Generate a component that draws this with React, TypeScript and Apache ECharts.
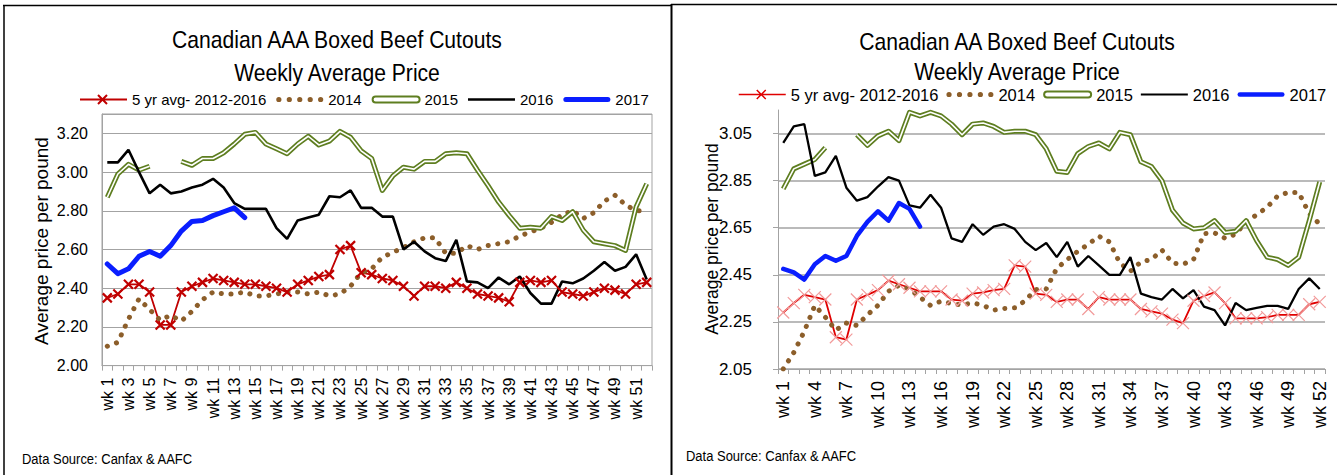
import React, { useEffect, useRef } from 'react';
import * as echarts from 'echarts';

const weeks = ['wk 1','wk 2','wk 3','wk 4','wk 5','wk 6','wk 7','wk 8','wk 9','wk 10','wk 11','wk 12','wk 13','wk 14','wk 15','wk 16','wk 17','wk 18','wk 19','wk 20','wk 21','wk 22','wk 23','wk 24','wk 25','wk 26','wk 27','wk 28','wk 29','wk 30','wk 31','wk 32','wk 33','wk 34','wk 35','wk 36','wk 37','wk 38','wk 39','wk 40','wk 41','wk 42','wk 43','wk 44','wk 45','wk 46','wk 47','wk 48','wk 49','wk 50','wk 51','wk 52'];

const seriesNames = ['5 yr avg- 2012-2016', '2014', '2015', '2016', '2017'];

// ---- Canadian AAA ----
const avgAAA = [2.35,2.37,2.42,2.42,2.38,2.21,2.21,2.38,2.41,2.43,2.45,2.44,2.43,2.42,2.42,2.41,2.40,2.38,2.42,2.44,2.46,2.47,2.60,2.62,2.48,2.47,2.45,2.44,2.41,2.36,2.41,2.41,2.40,2.43,2.40,2.37,2.36,2.35,2.33,2.43,2.44,2.43,2.44,2.38,2.37,2.36,2.38,2.40,2.39,2.37,2.42,2.43];
const y2014AAA = [2.10,2.12,2.24,2.345,2.29,2.235,2.26,2.23,2.28,2.34,2.38,2.37,2.37,2.38,2.36,2.36,2.37,2.38,2.38,2.37,2.38,2.36,2.37,2.41,2.48,2.50,2.56,2.585,2.61,2.64,2.66,2.66,2.58,2.58,2.62,2.60,2.62,2.63,2.64,2.67,2.69,2.71,2.74,2.78,2.80,2.76,2.79,2.85,2.88,2.83,2.80,2.80];
const y2015AAA = [2.87,2.99,3.04,3.01,3.03,null,null,3.055,3.035,3.07,3.07,3.10,3.145,3.195,3.205,3.145,3.12,3.095,3.145,3.185,3.14,3.16,3.21,3.18,3.11,3.07,2.905,2.98,3.025,3.015,3.055,3.055,3.095,3.10,3.095,3.01,2.93,2.845,2.775,2.71,2.715,2.71,2.77,2.75,2.795,2.70,2.64,2.63,2.62,2.595,2.82,2.94];
const y2016AAA = [3.05,3.05,3.115,3.00,2.89,2.935,2.89,2.90,2.92,2.935,2.965,2.92,2.84,2.81,2.81,2.81,2.71,2.655,2.75,2.765,2.78,2.875,2.87,2.905,2.815,2.815,2.77,2.77,2.60,2.64,2.59,2.555,2.54,2.65,2.435,2.43,2.40,2.455,2.42,2.46,2.375,2.32,2.32,2.435,2.425,2.45,2.49,2.535,2.49,2.51,2.575,2.445];
const y2017AAA = [2.525,2.475,2.50,2.565,2.59,2.565,2.62,2.695,2.745,2.75,2.775,2.795,2.815,2.765];

// ---- Canadian AA ----
const avgAA = [2.29,2.33,2.365,2.355,2.345,2.185,2.175,2.345,2.365,2.385,2.425,2.41,2.395,2.38,2.38,2.38,2.345,2.34,2.37,2.375,2.385,2.39,2.49,2.485,2.37,2.365,2.335,2.345,2.345,2.305,2.355,2.345,2.345,2.345,2.305,2.295,2.285,2.26,2.245,2.34,2.36,2.375,2.33,2.265,2.265,2.265,2.27,2.28,2.28,2.28,2.325,2.335];
const y2014AA = [2.05,2.12,2.21,2.32,2.27,2.215,2.245,2.235,2.28,2.32,2.38,2.405,2.39,2.355,2.32,2.338,2.328,2.322,2.331,2.32,2.30,2.307,2.31,2.34,2.388,2.39,2.477,2.515,2.55,2.58,2.614,2.59,2.50,2.465,2.505,2.515,2.555,2.50,2.495,2.515,2.625,2.628,2.605,2.623,2.675,2.705,2.737,2.785,2.80,2.80,2.71,2.665];
const y2015AA = [2.815,2.90,2.92,2.94,2.99,null,null,3.045,3.00,3.04,3.06,3.02,3.14,3.125,3.14,3.125,3.09,3.045,3.09,3.095,3.08,3.055,3.06,3.06,3.045,2.985,2.89,2.885,2.965,2.995,3.01,2.985,3.055,3.045,2.93,2.91,2.85,2.725,2.67,2.645,2.65,2.68,2.63,2.635,2.68,2.595,2.525,2.515,2.49,2.525,2.68,2.845];
const y2016AA = [3.01,3.08,3.09,2.87,2.885,2.955,2.82,2.765,2.78,2.825,2.865,2.85,2.745,2.735,2.79,2.735,2.605,2.59,2.665,2.62,2.655,2.665,2.645,2.59,2.555,2.585,2.525,2.59,2.485,2.53,2.49,2.45,2.45,2.525,2.37,2.355,2.345,2.39,2.35,2.385,2.315,2.30,2.235,2.33,2.30,2.31,2.318,2.318,2.305,2.39,2.435,2.39];
const y2017AA = [2.475,2.46,2.43,2.495,2.53,2.51,2.53,2.615,2.675,2.72,2.68,2.755,2.73,2.655];

const SANS = "'Liberation Sans', Arial, sans-serif";
const GRID = '#a3a3a3';
const BROWN = '#8c5e2a';
const GREEN = '#5e7e20';
const BLUE = '#0a1eff';
const XSYM = 'path://M0,0L10,10M10,0L0,10';

function dotsPath(n: number, r: number, gap: number) {
  let d = 'path://';
  for (let i = 0; i < n; i++) {
    const cx = r + i * gap;
    d += `M${cx - r},${r}a${r},${r} 0 1,0 ${2 * r},0a${r},${r} 0 1,0 ${-2 * r},0Z`;
  }
  return d;
}

function legendData(red: string, markW: number, blueW: number, blackW: number) {
  return [
    { name: seriesNames[0], icon: 'path://M0,6H47M18,1.5L27,10.5M27,1.5L18,10.5', itemStyle: { color: 'rgba(0,0,0,0)', borderColor: red, borderWidth: markW } },
    { name: seriesNames[1], icon: dotsPath(5, 2.5, 10), itemStyle: { color: BROWN, borderWidth: 0 } },
    { name: seriesNames[2], icon: 'path://M3,0H44A3,3 0 0 1 44,6H3A3,3 0 0 1 3,0Z', itemStyle: { color: '#fff', borderColor: GREEN, borderWidth: 2 } },
    { name: seriesNames[3], icon: `path://M0,0H47V${blackW}H0Z`, itemStyle: { color: '#000', borderWidth: 0 } },
    { name: seriesNames[4], icon: `path://M${blueW / 2},0H${47 - blueW / 2}A${blueW / 2},${blueW / 2} 0 0 1 ${47 - blueW / 2},${blueW}H${blueW / 2}A${blueW / 2},${blueW / 2} 0 0 1 ${blueW / 2},0Z`, itemStyle: { color: BLUE, borderWidth: 0 } },
  ];
}

function makeSeries(idx: number, avg: number[], s14: number[], s15: (number | null)[], s16: number[], s17: number[], cfg: any) {
  const base = { type: 'line', xAxisIndex: idx, yAxisIndex: idx, animation: false, silent: true, showSymbol: false, symbol: 'none' };
  return [
    {
      ...base, name: seriesNames[0], data: avg, symbol: XSYM, showSymbol: true, showAllSymbol: true, symbolSize: cfg.markSize,
      itemStyle: { color: 'rgba(0,0,0,0)', borderColor: cfg.markColor, borderWidth: cfg.markW },
      lineStyle: { color: cfg.red, width: cfg.redW },
    },
    { ...base, name: seriesNames[1], data: s14, lineStyle: { color: BROWN, width: 5, type: [0.1, 9.6], cap: 'round' }, itemStyle: { color: BROWN } },
    { ...base, name: seriesNames[2], data: s15, lineStyle: { color: GREEN, width: 5, join: 'round' }, itemStyle: { color: GREEN } },
    { ...base, name: '2015 inner', data: s15, lineStyle: { color: '#fff', width: 1.6, join: 'round' }, itemStyle: { color: '#fff' } },
    { ...base, name: seriesNames[3], data: s16, lineStyle: { color: '#000', width: cfg.blackW }, itemStyle: { color: '#000' } },
    { ...base, name: seriesNames[4], data: s17, lineStyle: { color: BLUE, width: cfg.blueW, cap: 'round', join: 'round' }, itemStyle: { color: BLUE } },
  ];
}

function txt(text: string, x: number, y: number, fontSize: number, scaleX: number, align: string) {
  return { type: 'text', x, y, scaleX, style: { text, fontSize, fontFamily: SANS, fill: '#000', align, verticalAlign: 'middle' } };
}

export default function App() {
  const ref = useRef<HTMLDivElement>(null);
  useEffect(() => {
    const chart = echarts.init(ref.current!, null, { renderer: 'svg' });
    const xAxis = (gridIndex: number, labelInterval: number, fontSize: number) => ({
      type: 'category', gridIndex, data: weeks, boundaryGap: true,
      axisLine: { show: true, lineStyle: { color: GRID, width: 1 } },
      axisTick: { show: true, interval: 0, length: 5, lineStyle: { color: GRID } },
      axisLabel: { interval: labelInterval, rotate: 90, margin: 12, fontSize, fontFamily: SANS, color: '#000' },
      splitLine: { show: false },
    });
    chart.setOption({
      animation: false,
      backgroundColor: '#fff',
      grid: [
        { left: 102, top: 114, width: 550, height: 251.6, show: true, borderColor: GRID, borderWidth: 1, backgroundColor: 'transparent' },
        { left: 778, top: 110, width: 547, height: 259, show: false },
      ],
      xAxis: [xAxis(0, 1, 16), xAxis(1, 2, 18)],
      yAxis: [
        {
          type: 'value', gridIndex: 0, min: 2.0, max: 3.3, interval: 0.2,
          axisLine: { show: true, lineStyle: { color: GRID } }, axisTick: { show: false },
          axisLabel: { margin: 14, fontSize: 16, fontFamily: SANS, color: '#000', showMaxLabel: false, formatter: (v: number) => v.toFixed(2) },
          splitLine: { show: true, lineStyle: { color: GRID, width: 1 } },
        },
        {
          type: 'value', gridIndex: 1, min: 2.05, max: 3.15, interval: 0.2,
          axisLine: { show: true, lineStyle: { color: GRID } },
          axisTick: { show: true, length: 5, lineStyle: { color: GRID } },
          axisLabel: { margin: 26, fontSize: 17, fontFamily: SANS, color: '#000', showMaxLabel: false, formatter: (v: number) => v.toFixed(2) },
          splitLine: { show: true, showMaxLine: false, lineStyle: { color: GRID, width: 1.5 } },
        },
      ],
      legend: [
        {
          left: 79, top: 92, width: 640, padding: 0, itemWidth: 47, itemHeight: 12, itemGap: 10, selectedMode: false,
          textStyle: { color: '#000', fontSize: 15, fontFamily: SANS },
          data: legendData('#c00000', 2, 5, 2.5),
        },
        {
          left: 738, top: 86, width: 640, padding: 0, itemWidth: 47, itemHeight: 12, itemGap: 8, selectedMode: false,
          textStyle: { color: '#000', fontSize: 16.5, fontFamily: SANS },
          data: legendData('#e00000', 1.5, 4.5, 2.2),
        },
      ],
      series: [
        ...makeSeries(0, avgAAA, y2014AAA, y2015AAA, y2016AAA, y2017AAA, { red: '#c00000', redW: 1.8, markColor: '#c00000', markSize: 9, markW: 2.2, blackW: 2.6, blueW: 5 }),
        ...makeSeries(1, avgAA, y2014AA, y2015AA, y2016AA, y2017AA, { red: '#e00000', redW: 1.8, markColor: '#f29a9a', markSize: 12, markW: 1.2, blackW: 2.3, blueW: 4.5 }),
      ],
      graphic: [
        { type: 'line', shape: { x1: 4, y1: 5, x2: 4, y2: 476 }, style: { stroke: '#000', lineWidth: 1.5 } },
        { type: 'line', shape: { x1: 3, y1: 5.5, x2: 671, y2: 5.5 }, style: { stroke: '#000', lineWidth: 1.5 } },
        { type: 'line', shape: { x1: 671.5, y1: 4, x2: 671.5, y2: 476 }, style: { stroke: '#000', lineWidth: 2 } },
        { type: 'line', shape: { x1: 671, y1: 4.5, x2: 1337, y2: 4.5 }, style: { stroke: '#000', lineWidth: 1.5 } },
        txt('Canadian AAA Boxed Beef Cutouts', 337, 40, 24, 0.88, 'center'),
        txt('Weekly Average Price', 337, 73, 24, 0.88, 'center'),
        txt('Canadian AA Boxed Beef Cutouts', 1017, 42, 24, 0.88, 'center'),
        txt('Weekly Average Price', 1017, 72, 24, 0.88, 'center'),
        { type: 'text', x: 41, y: 241, rotation: Math.PI / 2, style: { text: 'Average price per pound', fontSize: 19, fontFamily: SANS, fill: '#000', align: 'center', verticalAlign: 'middle' } },
        { type: 'text', x: 712, y: 239, rotation: Math.PI / 2, style: { text: 'Average price per pound', fontSize: 17.5, fontFamily: SANS, fill: '#000', align: 'center', verticalAlign: 'middle' } },
        txt('Data Source: Canfax & AAFC', 22, 459, 15, 0.865, 'left'),
        txt('Data Source: Canfax & AAFC', 686, 456, 15, 0.865, 'left'),
      ],
    });
    return () => chart.dispose();
  }, []);
  return <div ref={ref} style={{ position: 'absolute', left: 0, top: 0, width: 1337, height: 475, background: '#fff' }} />;
}
